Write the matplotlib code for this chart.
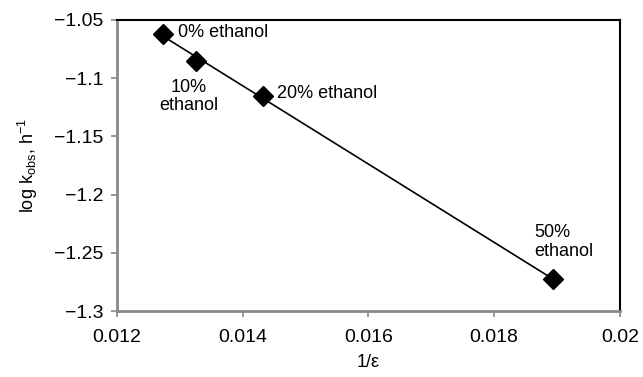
import matplotlib.pyplot as plt
import numpy as np

plt.rcParams['font.family'] = ['Liberation Sans', 'DejaVu Sans']

inv_eps = [0.01273, 0.013256, 0.01432, 0.01893]
log_k = [-1.062, -1.0852, -1.1153, -1.2725]
labels = ['0% ethanol', '10%\nethanol', '20% ethanol', '50%\nethanol']

fig = plt.figure(figsize=(6.43, 3.77), dpi=100)
ax = fig.add_axes([0.182, 0.175, 0.782, 0.772])

# linear trend line through the points
slope, icpt = np.polyfit(inv_eps, log_k, 1)
xs = np.array([min(inv_eps), max(inv_eps)])
ax.plot(xs, slope * xs + icpt, color='black', lw=1.2, zorder=2)
ax.plot(inv_eps, log_k, linestyle='none', marker='D', ms=10, color='black', zorder=3)

# point labels
fs = 13
ax.annotate(labels[0], (inv_eps[0], log_k[0]), xytext=(11, 1), textcoords='offset points',
            ha='left', va='center', fontsize=fs)
ax.annotate(labels[1], (inv_eps[1], log_k[1]), xytext=(-5, -13), textcoords='offset points',
            ha='center', va='top', fontsize=fs, multialignment='center', linespacing=1.1)
ax.annotate(labels[2], (inv_eps[2], log_k[2]), xytext=(10, 2), textcoords='offset points',
            ha='left', va='center', fontsize=fs)
ax.annotate(labels[3], (inv_eps[3], log_k[3]), xytext=(8, 14), textcoords='offset points',
            ha='center', va='bottom', fontsize=fs, multialignment='left', linespacing=1.1)

ax.set_xlim(0.012, 0.02)
ax.set_ylim(-1.3, -1.05)
ax.set_xticks([0.012, 0.014, 0.016, 0.018, 0.02])
ax.set_xticklabels(['0.012', '0.014', '0.016', '0.018', '0.02'])
ax.set_yticks([-1.3, -1.25, -1.2, -1.15, -1.1, -1.05])
ax.set_yticklabels(['\u22121.3', '\u22121.25', '\u22121.2', '\u22121.15', '\u22121.1', '\u22121.05'])
ax.tick_params(labelsize=14, color='#888888', length=4, width=1.2)
ax.tick_params(axis='x', pad=9)
ax.tick_params(axis='y', pad=6)

for s in ['left', 'bottom']:
    ax.spines[s].set_color('#888888')
    ax.spines[s].set_linewidth(2)
for s in ['top', 'right']:
    ax.spines[s].set_color('black')
    ax.spines[s].set_linewidth(1.5)

ax.set_xlabel('1/\u03b5', fontsize=13, labelpad=6)
ax.set_ylabel('log k$_{\\mathregular{obs}}$, h$^{\\mathregular{-1}}$', fontsize=13, labelpad=10)

fig.savefig('out.png', dpi=100)
